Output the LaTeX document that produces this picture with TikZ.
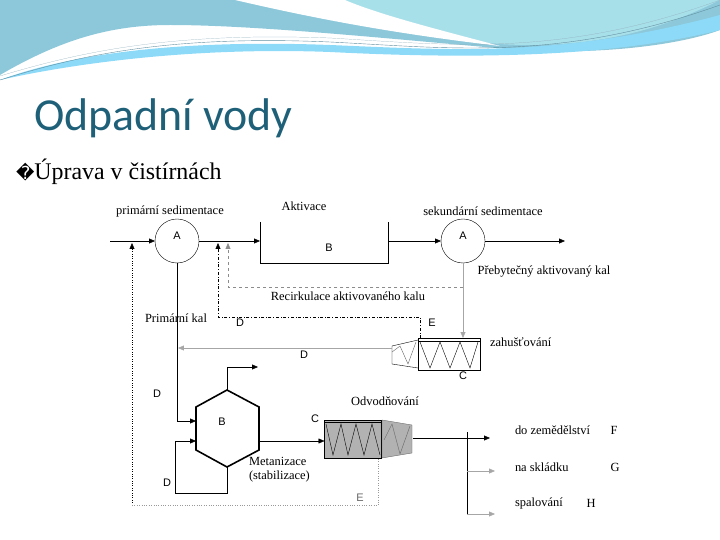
\documentclass[tikz,border=0pt]{standalone}
\usepackage{fontspec}
\setmainfont{Liberation Serif}
\newfontfamily\titlefont{Carlito}
\newfontfamily\symfont{DejaVu Sans}
\newfontfamily\letfont{Liberation Sans}
\usetikzlibrary{arrows.meta}
\definecolor{teal1}{HTML}{1F6079}
\definecolor{wave1}{HTML}{8CC8DA}
\definecolor{wave2}{HTML}{A8E0EA}
\begin{document}
\begin{tikzpicture}[x=1bp,y=-1bp,
  every node/.style={inner sep=0pt, outer sep=0pt},
  lbl/.style={font=\fontsize{12.5}{14}\selectfont},
  ltr/.style={font=\letfont\fontsize{11}{12}\selectfont},
  flow/.style={-{Triangle[length=6pt,width=5pt]}},
  gflow/.style={flow, draw=black!35}]
\useasboundingbox (0,0) rectangle (720,540);
% header waves
\fill[wave1] (0,0) -- (0,75) .. controls (60,40) and (110,25) .. (170,25) .. controls (260,25) and (400,40) .. (520,50) .. controls (600,55) and (680,45) .. (720,30) -- (720,0) -- cycle;
\fill[wave2] (330,0) .. controls (390,25) and (450,45) .. (530,45) .. controls (620,45) and (680,20) .. (720,0) -- cycle;
\fill[white] (235,0) .. controls (300,15) and (380,32) .. (500,46) .. controls (440,30) and (380,15) .. (345,0) -- cycle;
\fill[cyan!45] (0,80) .. controls (80,50) and (200,40) .. (330,45) .. controls (450,50) and (560,58) .. (720,15) -- (720,30) .. controls (600,60) and (450,58) .. (330,52) .. controls (200,47) and (80,62) .. (0,80) -- cycle;
\draw[teal1!70, thin] (0,80) .. controls (80,55) and (170,35) .. (330,42) .. controls (450,48) and (560,62) .. (720,5);
\draw[teal1!50, very thin] (0,76) .. controls (80,52) and (170,32) .. (330,38) .. controls (450,45) and (560,58) .. (720,0);
% title
\node[anchor=west, text=teal1, font=\titlefont\fontsize{46}{48}\selectfont] (title) at (34,118) {Odpadní vody};
\node[anchor=west, font=\fontsize{24}{26}\selectfont] (sub) at (16,172) {{\symfont\fontsize{18}{18}\selectfont �}Úprava v čistírnách};
% diagram
\coordinate (in) at (110,241);
\node[circle, draw, minimum size=44bp] (A1) at (177,241) {};
\node[ltr] at (177,236) {A};
\coordinate (Bl) at (260,241);
\draw (260,222) -- (260,263) -- (388,263) -- (388,222);
\node[ltr] (B1) at (329,248) {B};
\node[circle, draw, minimum size=44bp] (A2) at (463,241) {};
\node[ltr] at (463,236) {A};
\coordinate (out) at (565,241);
\draw[flow] (in) -- (A1);
\draw[flow] (A1) -- (Bl);
\draw[flow] (388,241) -- (A2);
\draw[flow] (A2) -- (out);
\node[lbl] at (170,211) {primární sedimentace};
\node[lbl] at (304,206) {Aktivace};
\node[lbl] at (483,211) {sekundární sedimentace};
\node[lbl] at (544,272) {Přebytečný aktivovaný kal};
\node[lbl] at (348,296) {Recirkulace aktivovaného kalu};
% recirculation
\draw[flow, dashed, draw=black!45] (463,287) -- (228,287) -- (228,243);
\draw[flow, dash dot] (420,338) -- (420,317) -- (218,317) -- (218,243);
\draw[flow, dotted] (132,505) -- (132,243);
\node[ltr] at (240,323) {D};
\node[ltr] at (432,323) {E};
% thickener
\node[draw, minimum width=62bp, minimum height=32bp] (thick) at (449,354) {};
\draw (418,341) -- (480,341);
\draw (420,342) -- (430,368) -- (440,342) -- (450,368) -- (460,342) -- (470,368) -- (478,342);
\draw (418,340) -- (392,346) -- (392,364) -- (418,368);
\draw[black!60] (392,352) -- (400,346) -- (408,364) -- (416,342);
\draw[gflow] (A2) -- (thick.north -| A2);
\node[lbl, anchor=west] at (490,342) {zahušťování};
\node[ltr] at (463,376) {C};
\draw[gflow] (392,348) -- (178,348);
\node[ltr] at (304,355) {D};
% primary sludge, methanisation
\coordinate (hex) at (228,429);
\draw[line width=1.6pt] (227,390) -- (259,407) -- (259,450) -- (227,467) -- (196,450) -- (196,407) -- cycle;
\node[ltr] (B2) at (222,422) {B};
\draw[flow] (A1) -- (177,421) -- (196,421);
\node[lbl] at (176,318) {Primární kal};
\node[ltr] at (157,394) {D};
\draw[flow] (227,390) -- (227,367) -- (258,367);
\draw[flow] (227,467) -- (227,493) -- (175,493) -- (175,441) -- (196,441);
\node[ltr] at (167,483) {D};
\node[lbl, align=left, anchor=north west] at (249,457) {Metanizace\\(stabilizace)};
% dewatering
\node[draw, fill=black!30, minimum width=57bp, minimum height=38bp] (dew) at (353,439) {};
\draw (325,422) -- (382,422);
\draw (326,424) -- (333,455) -- (341,424) -- (348,455) -- (356,424) -- (364,455) -- (372,424) -- (380,455);
\draw[fill=black!30, draw=black!60] (382,420) -- (412,425) -- (412,453) -- (382,458) -- cycle;
\draw[black!60] (384,440) -- (392,424) -- (400,454) -- (410,426);
\draw[flow] (260,441) -- (dew.west |- 0,441);
\node[lbl] at (385,401) {Odvodňování};
\node[ltr] at (315,419) {C};
\draw[dotted, draw=black!40] (132,505) -- (378,505) -- (378,458);
\node[ltr, text=black!60] at (360,498) {E};
% outputs
\draw[flow] (413,438) -- (490,438);
\draw (467,432) -- (467,515);
\draw[gflow] (467,471) -- (495,471);
\draw[gflow] (467,514) -- (495,514);
\node[lbl, anchor=west] at (515,430) {do zemědělství};
\node[lbl] at (614,430) {F};
\node[lbl, anchor=west] at (515,467) {na skládku};
\node[lbl] at (615,467) {G};
\node[lbl, anchor=west] at (515,503) {spalování};
\node[lbl] at (591,503) {H};
\end{tikzpicture}
\end{document}
